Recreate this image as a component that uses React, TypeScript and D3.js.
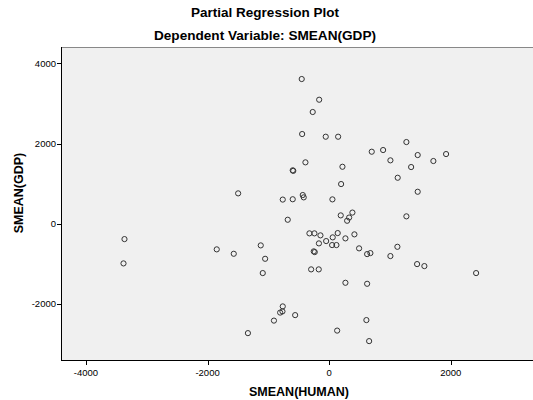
import React from "react";
import * as d3 from "d3";

const humanX: number[] = [
  -451, -164, -270, -444, -56, 148, 701, 888, 1271, 1008, 1457, 1349, 1715, 1924, 1128, 1457,
  -390, -599, -590, 219, 197, -434, -418, -763, -599, 54, -1497, -681, 191, 383, 329, 296, 1271,
  -324, -242, -143, -168, -49, 59, 141, 49, 120, 268, 416, 493, 625, 679, 1008, 1123, -253, -237,
  -296, -171, 268, 625, 1447, 1567, 2418, -3367, -3383, -1849, -1569, -1125, -1053, -1092,
  -763, -806, -768, -908, -559, -1336, 613, 132, 658,
];
const gdpY: number[] = [
  3608, 3092, 2786, 2237, 2170, 2170, 1796, 1838, 2037, 1581, 1713, 1414, 1564, 1738, 1147, 798,
  1531, 1332, 1319, 1421, 990, 716, 658, 603, 611, 608, 758, 100, 209, 279, 155, 75, 185,
  -239, -239, -289, -489, -431, -339, -232, -531, -531, -364, -264, -613, -756, -731, -805, -574, -688, -706,
  -1137, -1137, -1471, -1496, -1005, -1055, -1229, -382, -988, -638, -748, -539, -873, -1229,
  -2060, -2214, -2185, -2414, -2277, -2726, -2401, -2663, -2925,
];
const xTicks: number[] = [-4000, -2000, 0, 2000];
const yTicks: number[] = [-2000, 0, 2000, 4000];
const titleLines: string[] = ["Partial Regression Plot", "Dependent Variable: SMEAN(GDP)"];
const xLabel = "SMEAN(HUMAN)";
const yLabel = "SMEAN(GDP)";

export default function App() {
  const W = 533;
  const H = 400;
  const left = 61;
  const top = 47;
  const right = 560;
  const bottom = 360;
  const x = d3.scaleLinear().domain([-4000, 2000]).range([86, 450.7]);
  const y = d3.scaleLinear().domain([-2000, 4000]).range([304, 63.3]);
  const font = "Arial, 'Liberation Sans', sans-serif";
  const pts = humanX.map((v, i) => ({ x: v, y: gdpY[i] }));
  return (
    <svg
      width={W}
      height={H}
      style={{ position: "absolute", left: 0, top: 0, background: "#fff" }}
      fontFamily={font}
    >
      <rect x={0} y={0} width={W} height={H} fill="#ffffff" />
      <text x={265} y={17} textAnchor="middle" fontSize={13.5} fontWeight="bold" fill="#000">
        {titleLines[0]}
      </text>
      <text x={265} y={40} textAnchor="middle" fontSize={13.6} fontWeight="bold" fill="#000">
        {titleLines[1]}
      </text>
      <rect x={left} y={top} width={right - left} height={bottom - top} fill="#f0f0f0" />
      <line x1={left} x2={right} y1={top + 0.5} y2={top + 0.5} stroke="#888" strokeWidth={1} />
      <g>
        {pts.map((p, i) => (
          <circle
            key={i}
            cx={x(p.x)}
            cy={y(p.y)}
            r={2.6}
            fill="none"
            stroke="#333"
            strokeWidth={1}
          />
        ))}
      </g>
      <line x1={left + 0.5} x2={left + 0.5} y1={top} y2={bottom} stroke="#000" strokeWidth={1} />
      <line x1={left} x2={right} y1={bottom + 0.5} y2={bottom + 0.5} stroke="#000" strokeWidth={1} />
      {yTicks.map((t) => (
        <g key={"y" + t}>
          <line x1={left - 4} x2={left} y1={Math.round(y(t)) + 0.5} y2={Math.round(y(t)) + 0.5} stroke="#000" />
          <text x={left - 5} y={y(t)} dy="0.35em" textAnchor="end" fontSize={9.5} fill="#000">
            {t}
          </text>
        </g>
      ))}
      {xTicks.map((t) => (
        <g key={"x" + t}>
          <line x1={Math.round(x(t)) + 0.5} x2={Math.round(x(t)) + 0.5} y1={bottom} y2={bottom + 5} stroke="#000" />
          <text x={x(t)} y={376} textAnchor="middle" fontSize={9.5} fill="#000">
            {t}
          </text>
        </g>
      ))}
      <text x={299} y={396} textAnchor="middle" fontSize={12.5} fontWeight="bold" fill="#000">
        {xLabel}
      </text>
      <text
        transform={`translate(23,193) rotate(-90)`}
        textAnchor="middle"
        fontSize={12.5}
        fontWeight="bold"
        fill="#000"
      >
        {yLabel}
      </text>
    </svg>
  );
}
